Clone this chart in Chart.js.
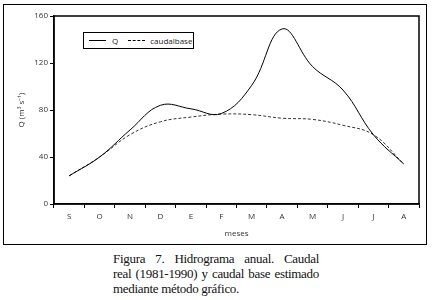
<!DOCTYPE html>
<html lang="es">
<head>
<meta charset="UTF-8">
<title>Hidrograma anual</title>
<script src="https://cdn.jsdelivr.net/npm/chart.js"></script>
<style>
    body { margin: 0; background: #fff; width: 432px; height: 300px; overflow: hidden; position: relative; }
    #wrap { position: absolute; left: 0; top: 0; width: 432px; height: 250px; }
    #frame { position: absolute; left: 3px; top: 4px; width: 422px; height: 239px; border: 1.5px solid #000; pointer-events: none; }
    #legend { position: absolute; left: 83px; top: 32px; width: 109px; height: 15px; border: 1px solid #000; background: #fff;
              font: 8px "Open Sans", sans-serif; color: #222; display: flex; align-items: center; }
    #legend .ln { display: inline-block; width: 17px; height: 0; border-top: 1px solid #000; margin-left: 5px; margin-right: 6px; }
    #legend .dash { border-top: 1px dashed #000; margin-left: 10px; margin-right: 5px; }
    #caption { position: absolute; left: 113px; top: 251px; width: 206px; font: 13px "Liberation Serif", serif; letter-spacing: -0.3px;
               line-height: 15px; color: #111; }
    #caption div { white-space: nowrap; }
    #caption .j { text-align: justify; text-align-last: justify; }
</style>
</head>
<body>
<div id="wrap"><canvas id="hidro" width="432" height="250"></canvas></div>
<div id="frame"></div>
<div id="legend"><span class="ln"></span>Q<span class="ln dash"></span>caudalbase</div>
<div id="caption">
    <div class="j">Figura 7. Hidrograma anual. Caudal</div>
    <div class="j">real (1981-1990) y caudal base estimado</div>
    <div>mediante método gráfico.</div>
</div>

<script>
    // meses del año hidrológico (septiembre - agosto)
    const meses = ['S', 'O', 'N', 'D', 'E', 'F', 'M', 'A', 'M', 'J', 'J', 'A'];
    // caudal real Q (m3/s)
    const caudalQ = [24, 40, 63, 84, 81, 77, 101, 149, 117, 97, 59, 34];
    // caudal base estimado
    const caudalBase = [24, 40, 59, 70, 74, 76.5, 76, 73, 72, 67, 59, 34];
    const yTicks = [0, 40, 80, 120, 160];

    // marco del área de trazado
    const plotFrame = {
        id: 'plotFrame',
        afterDraw(chart) {
            const a = chart.chartArea;
            const ctx = chart.ctx;
            ctx.save();
            ctx.strokeStyle = '#000';
            ctx.lineWidth = 1.5;
            ctx.strokeRect(a.left, a.top, a.right - a.left, a.bottom - a.top);
            ctx.restore();
        }
    };

    const ctx = document.getElementById('hidro').getContext('2d');
    new Chart(ctx, {
        type: 'line',
        data: {
            labels: meses,
            datasets: [
                {
                    label: 'Q',
                    data: caudalQ,
                    borderColor: '#000',
                    borderWidth: 1,
                    pointRadius: 0,
                    tension: 0.4
                },
                {
                    label: 'caudalbase',
                    data: caudalBase,
                    borderColor: '#333',
                    borderWidth: 1,
                    borderDash: [3, 2],
                    pointRadius: 0,
                    tension: 0.4
                }
            ]
        },
        options: {
            responsive: false,
            animation: false,
            layout: { padding: { top: 16, right: 13, left: 17, bottom: 11 } },
            plugins: {
                legend: { display: false },
                tooltip: { enabled: false }
            },
            scales: {
                x: {
                    offset: true,
                    grid: { display: true, offset: true, drawOnChartArea: false, tickLength: 4, color: '#000' },
                    border: { display: true, color: '#000', width: 1.5 },
                    ticks: { color: '#333', font: { family: 'Open Sans', size: 8 }, padding: 4, maxRotation: 0 },
                    title: { display: true, text: 'meses', color: '#333', font: { family: 'Open Sans', size: 8 }, padding: { top: 2, bottom: 0 } },
                    afterFit: s => { s.height = 35; }
                },
                y: {
                    min: 0,
                    max: 160,
                    afterBuildTicks: s => { s.ticks = yTicks.map(v => ({ value: v })); },
                    grid: { display: true, drawOnChartArea: false, tickLength: 4, color: '#000' },
                    border: { display: true, color: '#000', width: 1.5 },
                    ticks: { color: '#333', font: { family: 'Open Sans', size: 8 }, padding: 2 },
                    title: { display: true, text: 'Q (m³ s⁻¹)', color: '#333', font: { family: 'Open Sans', size: 8 }, padding: 0 },
                    afterFit: s => { s.width = 37; }
                }
            }
        },
        plugins: [plotFrame]
    });
</script>
</body>
</html>
